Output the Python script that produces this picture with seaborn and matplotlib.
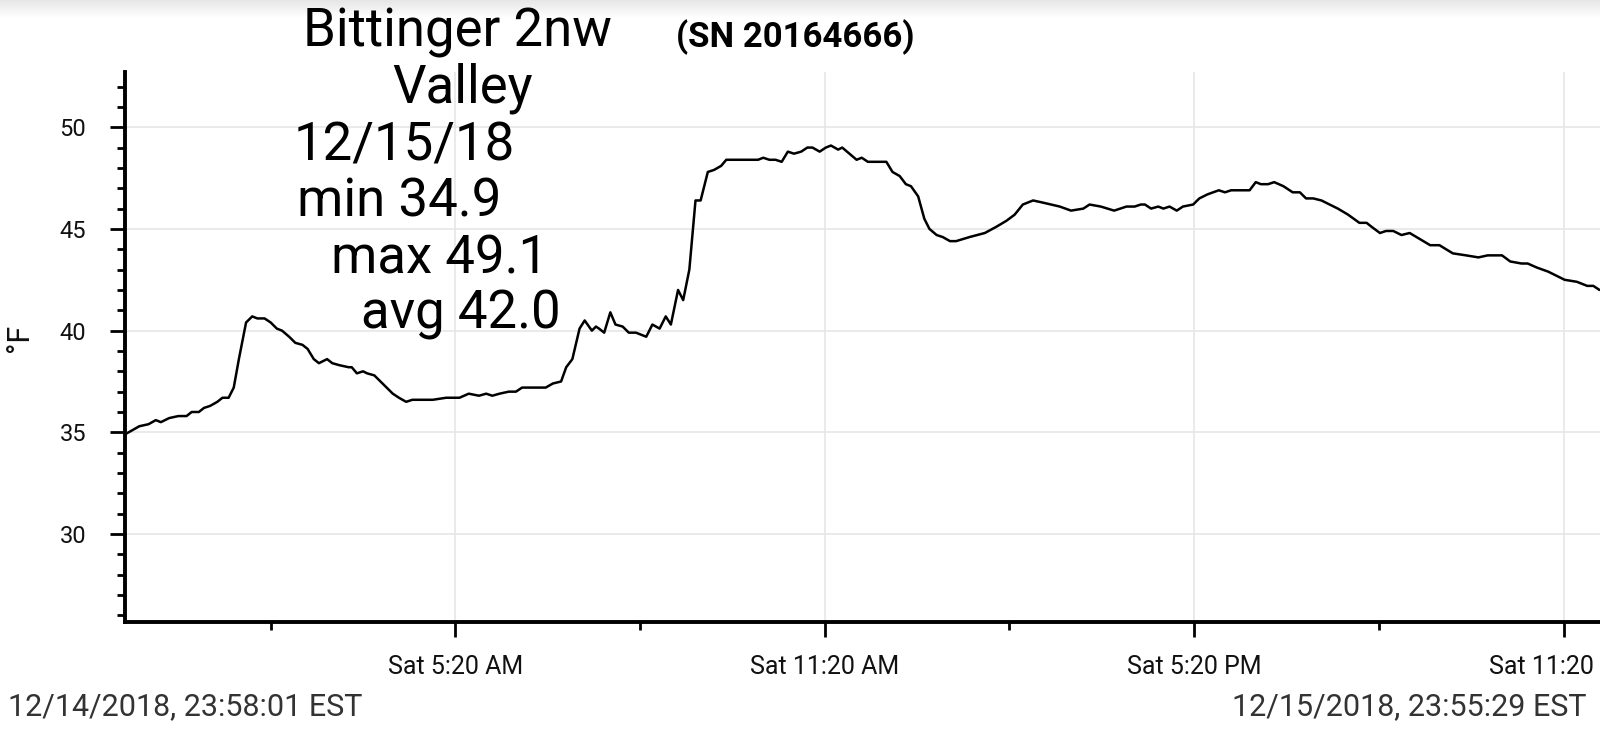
import numpy as np
import pandas as pd
import matplotlib
matplotlib.use("Agg")
import matplotlib.pyplot as plt
import matplotlib.dates as mdates
from matplotlib.ticker import FixedLocator
import seaborn as sns

# ---------------- data ----------------
times = [
    "14 23:58", "15 00:12", "15 00:21", "15 00:28", "15 00:33", "15 00:41", "15 00:50", "15 00:58", "15 01:03", "15 01:10",
    "15 01:15", "15 01:21", "15 01:28", "15 01:33", "15 01:39", "15 01:44", "15 01:49", "15 01:56", "15 02:02", "15 02:07",
    "15 02:14", "15 02:20", "15 02:26", "15 02:31", "15 02:38", "15 02:44", "15 02:51", "15 02:56", "15 03:02", "15 03:07",
    "15 03:15", "15 03:20", "15 03:27", "15 03:36", "15 03:39", "15 03:44", "15 03:50", "15 03:54", "15 04:01", "15 04:09",
    "15 04:19", "15 04:25", "15 04:32", "15 04:38", "15 04:51", "15 04:58", "15 05:11", "15 05:24", "15 05:33", "15 05:43",
    "15 05:50", "15 05:56", "15 06:03", "15 06:12", "15 06:19", "15 06:25", "15 06:32", "15 06:38", "15 06:48", "15 06:55",
    "15 07:03", "15 07:08", "15 07:14", "15 07:21", "15 07:26", "15 07:33", "15 07:37", "15 07:40", "15 07:45", "15 07:51",
    "15 07:56", "15 08:03", "15 08:09", "15 08:16", "15 08:26", "15 08:32", "15 08:39", "15 08:45", "15 08:50", "15 08:57",
    "15 09:02", "15 09:08", "15 09:14", "15 09:19", "15 09:26", "15 09:32", "15 09:39", "15 09:44", "15 10:15", "15 10:20",
    "15 10:26", "15 10:32", "15 10:38", "15 10:44", "15 10:50", "15 10:57", "15 11:03", "15 11:08", "15 11:15", "15 11:21",
    "15 11:26", "15 11:33", "15 11:37", "15 11:44", "15 11:51", "15 11:56", "15 12:02", "15 12:20", "15 12:26", "15 12:33",
    "15 12:39", "15 12:44", "15 12:51", "15 12:57", "15 13:02", "15 13:09", "15 13:15", "15 13:22", "15 13:28", "15 13:41",
    "15 13:56", "15 14:07", "15 14:17", "15 14:25", "15 14:33", "15 14:43", "15 14:52", "15 15:09", "15 15:20", "15 15:32",
    "15 15:38", "15 15:49", "15 16:02", "15 16:14", "15 16:22", "15 16:28", "15 16:32", "15 16:38", "15 16:45", "15 16:50",
    "15 16:56", "15 17:03", "15 17:09", "15 17:19", "15 17:25", "15 17:33", "15 17:44", "15 17:50", "15 17:56", "15 18:14",
    "15 18:20", "15 18:25", "15 18:32", "15 18:38", "15 18:47", "15 18:56", "15 19:03", "15 19:09", "15 19:16", "15 19:24",
    "15 19:32", "15 19:40", "15 19:50", "15 20:01", "15 20:08", "15 20:13", "15 20:21", "15 20:27", "15 20:34", "15 20:42",
    "15 20:50", "15 21:00", "15 21:10", "15 21:19", "15 21:32", "15 21:45", "15 21:57", "15 22:06", "15 22:20", "15 22:28",
    "15 22:39", "15 22:45", "15 22:54", "15 23:05", "15 23:13", "15 23:21", "15 23:33", "15 23:43", "15 23:49", "15 23:55",
]

temps = [
    34.9, 35.3, 35.4, 35.6, 35.5, 35.7, 35.8, 35.8, 36.0, 36.0,
    36.2, 36.3, 36.5, 36.7, 36.7, 37.2, 38.6, 40.4, 40.7, 40.6,
    40.6, 40.4, 40.1, 40.0, 39.7, 39.4, 39.3, 39.1, 38.6, 38.4,
    38.6, 38.4, 38.3, 38.2, 38.2, 37.9, 38.0, 37.9, 37.8, 37.4,
    36.9, 36.7, 36.5, 36.6, 36.6, 36.6, 36.7, 36.7, 36.9, 36.8,
    36.9, 36.8, 36.9, 37.0, 37.0, 37.2, 37.2, 37.2, 37.2, 37.4,
    37.5, 38.2, 38.6, 40.1, 40.5, 40.0, 40.2, 40.1, 39.9, 40.9,
    40.3, 40.2, 39.9, 39.9, 39.7, 40.3, 40.1, 40.7, 40.3, 42.0,
    41.5, 43.0, 46.4, 46.4, 47.8, 47.9, 48.1, 48.4, 48.4, 48.5,
    48.4, 48.4, 48.3, 48.8, 48.7, 48.8, 49.0, 49.0, 48.8, 49.0,
    49.1, 48.9, 49.0, 48.7, 48.4, 48.5, 48.3, 48.3, 47.8, 47.6,
    47.2, 47.1, 46.6, 45.5, 45.0, 44.7, 44.6, 44.4, 44.4, 44.6,
    44.8, 45.1, 45.4, 45.7, 46.2, 46.4, 46.3, 46.1, 45.9, 46.0,
    46.2, 46.1, 45.9, 46.1, 46.1, 46.2, 46.2, 46.0, 46.1, 46.0,
    46.1, 45.9, 46.1, 46.2, 46.5, 46.7, 46.9, 46.8, 46.9, 46.9,
    47.3, 47.2, 47.2, 47.3, 47.1, 46.8, 46.8, 46.5, 46.5, 46.4,
    46.2, 46.0, 45.7, 45.3, 45.3, 45.1, 44.8, 44.9, 44.9, 44.7,
    44.8, 44.5, 44.2, 44.2, 43.8, 43.7, 43.6, 43.7, 43.7, 43.4,
    43.3, 43.3, 43.1, 42.9, 42.7, 42.5, 42.4, 42.2, 42.2, 42.0,
]

x_start = "2018-12-14 23:58:01"
x_end = "2018-12-15 23:55:29"
major_tick_times = ["2018-12-15 05:20", "2018-12-15 11:20", "2018-12-15 17:20", "2018-12-15 23:20"]
major_tick_labels = ["Sat 5:20 AM", "Sat 11:20 AM", "Sat 5:20 PM", "Sat 11:20 PM"]
minor_tick_times = ["2018-12-15 02:20", "2018-12-15 08:20", "2018-12-15 14:20", "2018-12-15 20:20"]
y_major_ticks = [30, 35, 40, 45, 50]
y_minor_ticks = list(range(26, 53))
y_limits = (25.69, 52.73)

title_main = "Bittinger 2nw"
serial_text = "(SN 20164666)"
info_lines = ["Valley", "12/15/18", "min 34.9", "max 49.1", "avg 42.0"]
start_stamp = "12/14/2018, 23:58:01 EST"
end_stamp = "12/15/2018, 23:55:29 EST"
y_label = "°F"

# ---------------- style ----------------
sns.set_style("white")
plt.rcParams["font.family"] = ["Roboto", "DejaVu Sans"]

W, H = 1600, 736
fig = plt.figure(figsize=(W / 100, H / 100), dpi=100)
fig.patch.set_facecolor("white")

# top toolbar shadow
gax = fig.add_axes([0, 1 - 18 / H, 1, 18 / H])
grad = np.linspace(0, 1, 64).reshape(-1, 1)
gax.imshow(grad, aspect="auto", cmap=matplotlib.colors.LinearSegmentedColormap.from_list(
    "g", ["#e6e6e6", "#ffffff"]), extent=[0, 1, 0, 1], origin="upper")
gax.axis("off")

left_px, right_px, top_px, bottom_px = 125, 1600, 71.7, 621.7
ax = fig.add_axes([left_px / W, 1 - bottom_px / H, (right_px - left_px) / W, (bottom_px - top_px) / H])

df = pd.DataFrame({"time": pd.to_datetime(["2018-12-" + t for t in times]), "temp": temps})
sns.lineplot(data=df, x="time", y="temp", ax=ax, color="black", linewidth=1.8)

ax.set_xlim(pd.Timestamp(x_start), pd.Timestamp(x_end))
ax.set_ylim(*y_limits)

ax.xaxis.set_major_locator(FixedLocator(mdates.date2num(pd.to_datetime(major_tick_times))))
ax.xaxis.set_minor_locator(FixedLocator(mdates.date2num(pd.to_datetime(minor_tick_times))))
ax.set_xticklabels(major_tick_labels)
ax.yaxis.set_major_locator(FixedLocator(y_major_ticks))
ax.yaxis.set_minor_locator(FixedLocator(y_minor_ticks))
ax.set_yticklabels([str(v) for v in y_major_ticks])

ax.grid(True, which="major", color="#e6e6e6", linewidth=1.2)
ax.set_axisbelow(True)

for s in ["top", "right"]:
    ax.spines[s].set_visible(False)
for s in ["left", "bottom"]:
    ax.spines[s].set_linewidth(2.8)
    ax.spines[s].set_color("black")

ax.tick_params(axis="x", which="both", bottom=True, top=False)
ax.tick_params(axis="y", which="both", left=True, right=False)
ax.tick_params(axis="both", which="major", direction="out", length=11, width=2.0, color="black")
ax.tick_params(axis="both", which="minor", direction="out", length=6, width=2.0, color="black")
ax.tick_params(axis="x", which="major", labelsize=18, pad=13, labelcolor="#111111")
ax.tick_params(axis="y", which="major", labelsize=17, pad=17, labelcolor="#111111")
ax.set_xlabel("")
ax.set_ylabel("")

def ftext(x, y, s, **kw):
    fig.text(x / W, 1 - y / H, s, **kw)

ftext(19, 338, y_label, rotation=90, ha="center", va="center", fontsize=22, color="#111111")

big = dict(fontsize=38, color="black", va="baseline", ha="left")
ftext(303, 47, title_main, **big)
ftext(676, 47, serial_text, fontsize=25, fontweight="bold", color="black", va="baseline", ha="left")
info_x = [392, 294, 297, 331, 361]
info_y = [103, 160, 216.7, 273, 328.3]
for s, x, y in zip(info_lines, info_x, info_y):
    ftext(x, y, s, **big)

ftext(8, 715, start_stamp, fontsize=22, color="#333333", va="baseline", ha="left")
ftext(1587, 715, end_stamp, fontsize=22, color="#333333", va="baseline", ha="right")

fig.savefig("out.png", dpi=100)
